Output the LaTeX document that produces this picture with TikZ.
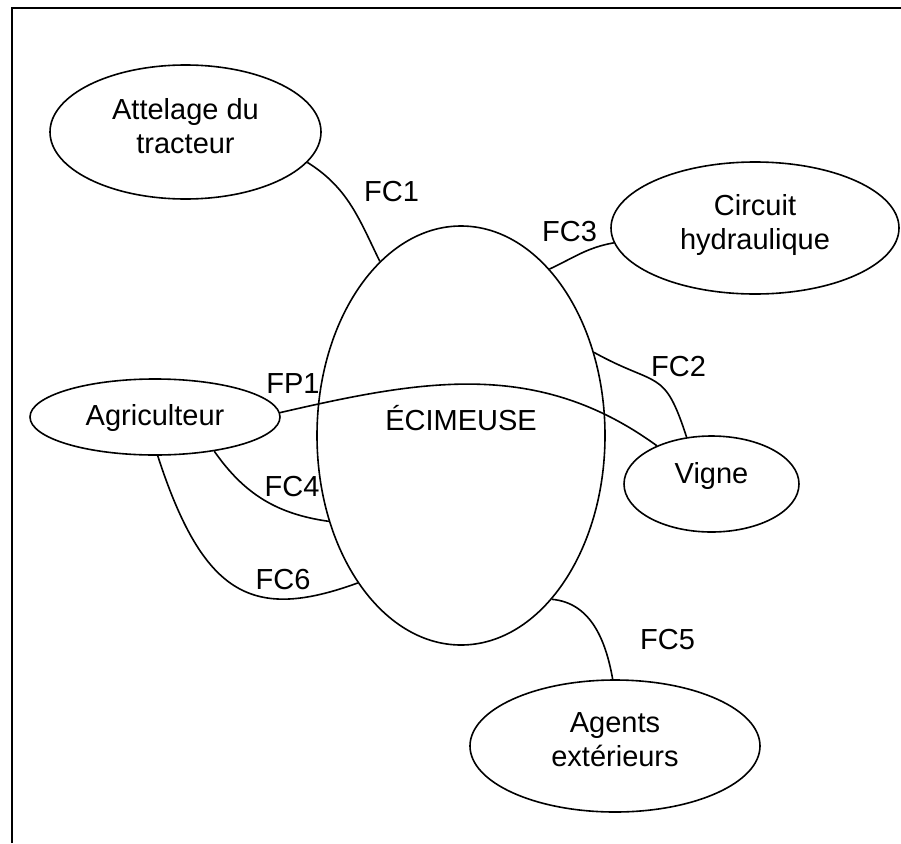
\documentclass[tikz,border=0pt]{standalone}
\usepackage{fontspec}
\setmainfont{Liberation Sans}
\usetikzlibrary{shapes.geometric}

\tikzset{
  bloc/.style={ellipse, draw, line width=1.6pt, inner sep=0pt, align=center, text depth=13pt},
  lien/.style={line width=1.6pt},
  etiq/.style={inner sep=0pt}
}

\begin{document}
\begin{tikzpicture}[x=1pt, y=-1pt, font=\fontsize{29}{34}\selectfont]
        \useasboundingbox (0,0) rectangle (901,843);
        % Cadre
        \draw[line width=1.6pt] (12,843) -- (12,8) -- (901,8);

        % Ecimeuse
        \node (ecim) [bloc, minimum width=288pt, minimum height=419pt,
          label={[yshift=17pt]center:ÉCIMEUSE}] at (461,435.5) {};

        % Milieux exterieurs
        \node (attel) [bloc, minimum width=271pt, minimum height=134pt] at (185.5,132) {Attelage du\\tracteur};
        \node (circ) [bloc, minimum width=288pt, minimum height=132pt] at (755,228) {Circuit\\hydraulique};
        \node (agri) [bloc, text depth=5pt, minimum width=250pt, minimum height=76pt] at (155,417) {Agriculteur};
        \node (vigne) [bloc, text depth=22pt, minimum width=175pt, minimum height=96pt] at (711.5,484) {Vigne};
        \node (agents) [bloc, minimum width=290pt, minimum height=132pt] at (615,746) {Agents\\extérieurs};

        % Fonctions
        \draw[lien] (attel.-14) to[out=-32, in=116] (ecim.115);
        \draw[lien] (ecim.62.6) to[out=25, in=190] (circ.186);
        \draw[lien] (ecim.32) to[out=-29, in=108, looseness=1.5] (vigne.118.5);
        \draw[lien] (agri.2.7) to[out=13, in=144] (vigne.145);
        \draw[lien] (agri.330) to[out=-55, in=172] (ecim.213);
        \draw[lien] (agri.274.5) to[out=-72, in=200, out looseness=1.6, in looseness=1.2] (ecim.235);
        \draw[lien] (ecim.299.4) to[out=-5, in=100] (agents.92);

        % Libelles
        \node (lfc1) [etiq] at (391.5,191.5) {FC1};
        \node (lfc3) [etiq] at (569.5,231.5) {FC3};
        \node (lfp1) [etiq] at (293,384) {FP1};
        \node (lfc2) [etiq] at (678.5,366.5) {FC2};
        \node (lfc4) [etiq] at (292,487) {FC4};
        \node (lfc6) [etiq] at (283,580) {FC6};
        \node (lfc5) [etiq] at (667.5,640) {FC5};
\end{tikzpicture}
\end{document}
